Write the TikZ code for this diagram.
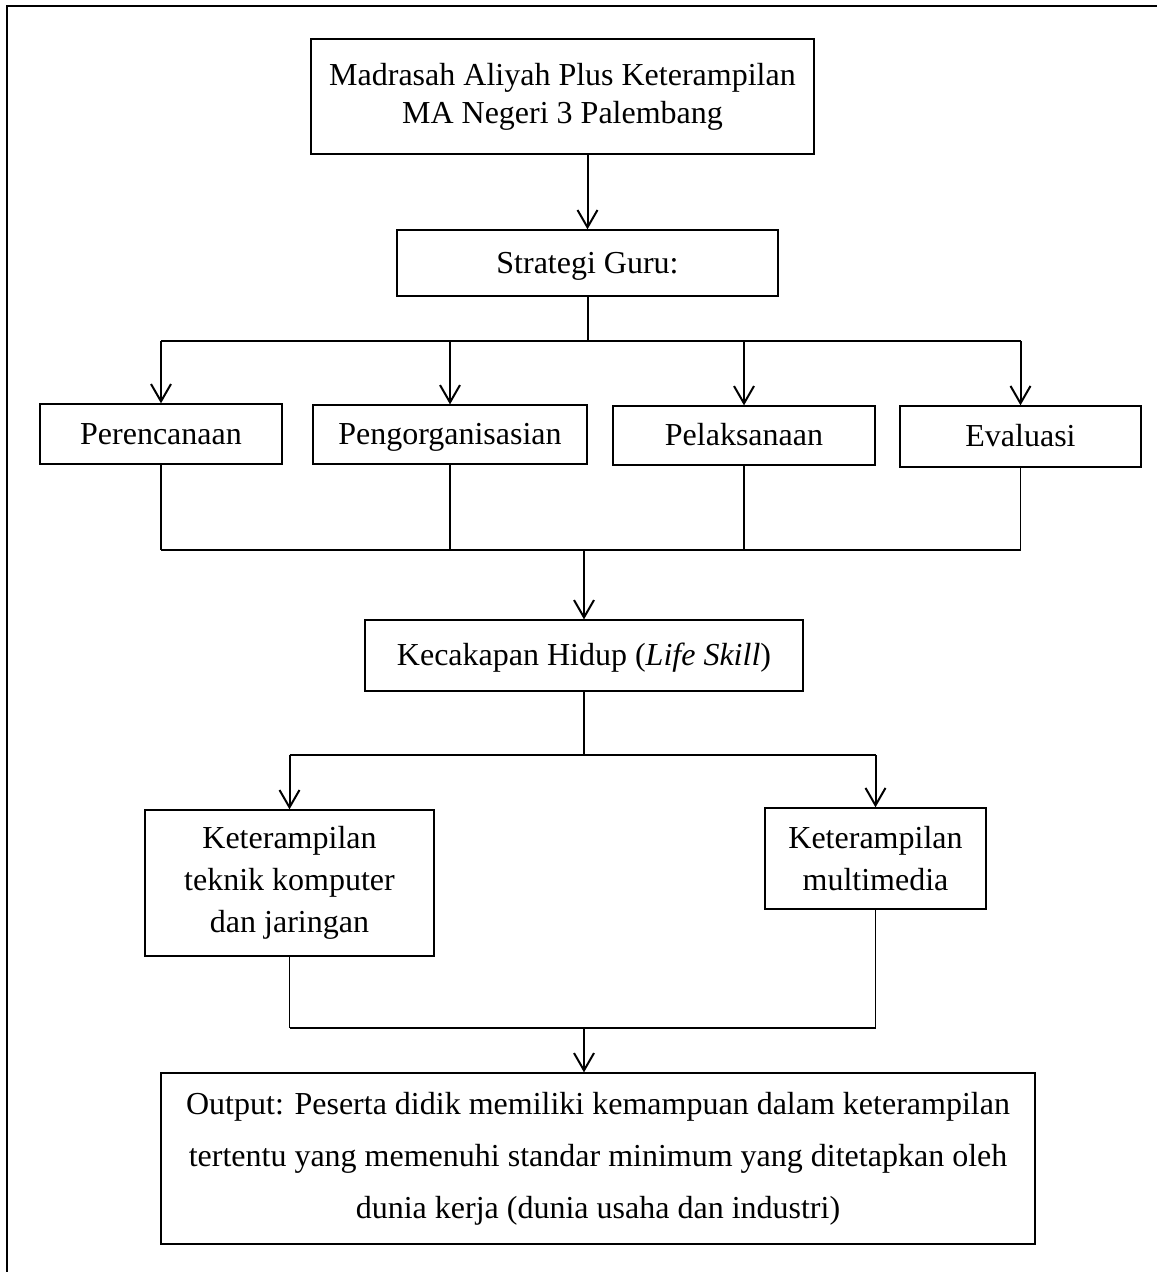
\documentclass[tikz,border=0pt]{standalone}
\usepackage{fontspec}
\setmainfont{Liberation Serif}
\usetikzlibrary{arrows.meta}
\begin{document}
\begin{tikzpicture}[x=0.375pt, y=-0.375pt]

    \tikzstyle{block} = [rectangle, draw, line width=0.5pt, align=center, inner sep=0pt, font=\fontsize{12}{14.25}\selectfont]
    \tikzstyle{single} = [block, text height=10.4pt, text depth=2.6pt]
    \tikzstyle{arrow} = [line width=0.75pt, -{Straight Barb[length=6.5pt, width=7.5pt]}]
    \tikzstyle{line} = [line width=0.75pt]
    \tikzstyle{tail} = [line width=0.5pt]

    \useasboundingbox (0,0) rectangle (1157,1272);
    \draw[line width=0.9pt] (7,1272) -- (7,6) -- (1157,6);

    \node[block, minimum width=188.6pt, minimum height=43.1pt] (madrasah) at (562.5,96.5) {Madrasah Aliyah Plus Keterampilan\\MA Negeri 3 Palembang};
    \node[single, minimum width=142.9pt, minimum height=24.75pt] (strategi) at (587.5,263) {Strategi Guru:};
    \node[single, minimum width=90.75pt, minimum height=22.5pt] (perencanaan) at (161,434) {Perencanaan};
    \node[single, minimum width=102.75pt, minimum height=22.1pt] (pengorganisasian) at (450,434.5) {Pengorganisasian};
    \node[single, minimum width=98.25pt, minimum height=22.1pt] (pelaksanaan) at (744,435.5) {Pelaksanaan};
    \node[single, minimum width=90.4pt, minimum height=22.9pt] (evaluasi) at (1020.5,436.5) {Evaluasi};
    \node[single, minimum width=164.25pt, minimum height=26.6pt] (kecakapan) at (584,655.5) {Kecakapan Hidup (\textit{Life Skill})};
    \node[block, minimum width=108.4pt, minimum height=54.75pt, font=\fontsize{12}{15.75}\selectfont] (komputer) at (289.5,883) {Keterampilan\\teknik komputer\\dan jaringan};
    \node[block, minimum width=82.9pt, minimum height=37.9pt, font=\fontsize{12}{15.75}\selectfont] (multimedia) at (875.5,858.5) {Keterampilan\\multimedia};
    \node[block, minimum width=327.75pt, minimum height=64.1pt, font=\fontsize{12}{19.5}\selectfont] (output) at (598,1158.5) {Output: Peserta didik memiliki kemampuan dalam keterampilan\\tertentu yang memenuhi standar minimum yang ditetapkan oleh\\dunia kerja (dunia usaha dan industri)};

    \coordinate (bus1) at (585,341);
    \coordinate (bus2) at (584,550);
    \coordinate (bus3) at (585,755);
    \coordinate (bus4) at (584,1028);

    \draw[arrow] (madrasah.south -| strategi) -- (strategi.north);
    \draw[line] (strategi.south) -- (strategi.south |- bus1);
    \draw[line] (perencanaan.north |- bus1) -- (evaluasi.north |- bus1);
    \draw[arrow] (perencanaan.north |- bus1) -- (perencanaan.north);
    \draw[arrow] (pengorganisasian.north |- bus1) -- (pengorganisasian.north);
    \draw[arrow] (pelaksanaan.north |- bus1) -- (pelaksanaan.north);
    \draw[arrow] (evaluasi.north |- bus1) -- (evaluasi.north);

    \draw[tail] (perencanaan.south) -- (perencanaan.south |- bus2);
    \draw[tail] (pengorganisasian.south) -- (pengorganisasian.south |- bus2);
    \draw[tail] (pelaksanaan.south) -- (pelaksanaan.south |- bus2);
    \draw[tail] (evaluasi.south) -- (evaluasi.south |- bus2);
    \draw[line] (perencanaan.south |- bus2) -- (evaluasi.south |- bus2);
    \draw[arrow] (kecakapan.north |- bus2) -- (kecakapan.north);

    \draw[line] (kecakapan.south) -- (kecakapan.south |- bus3);
    \draw[line] (komputer.north |- bus3) -- (multimedia.north |- bus3);
    \draw[arrow] (komputer.north |- bus3) -- (komputer.north);
    \draw[arrow] (multimedia.north |- bus3) -- (multimedia.north);

    \draw[tail] (komputer.south) -- (komputer.south |- bus4);
    \draw[tail] (multimedia.south) -- (multimedia.south |- bus4);
    \draw[line] (komputer.south |- bus4) -- (multimedia.south |- bus4);
    \draw[arrow] (bus4) -- (bus4 |- output.north);

\end{tikzpicture}
\end{document}
